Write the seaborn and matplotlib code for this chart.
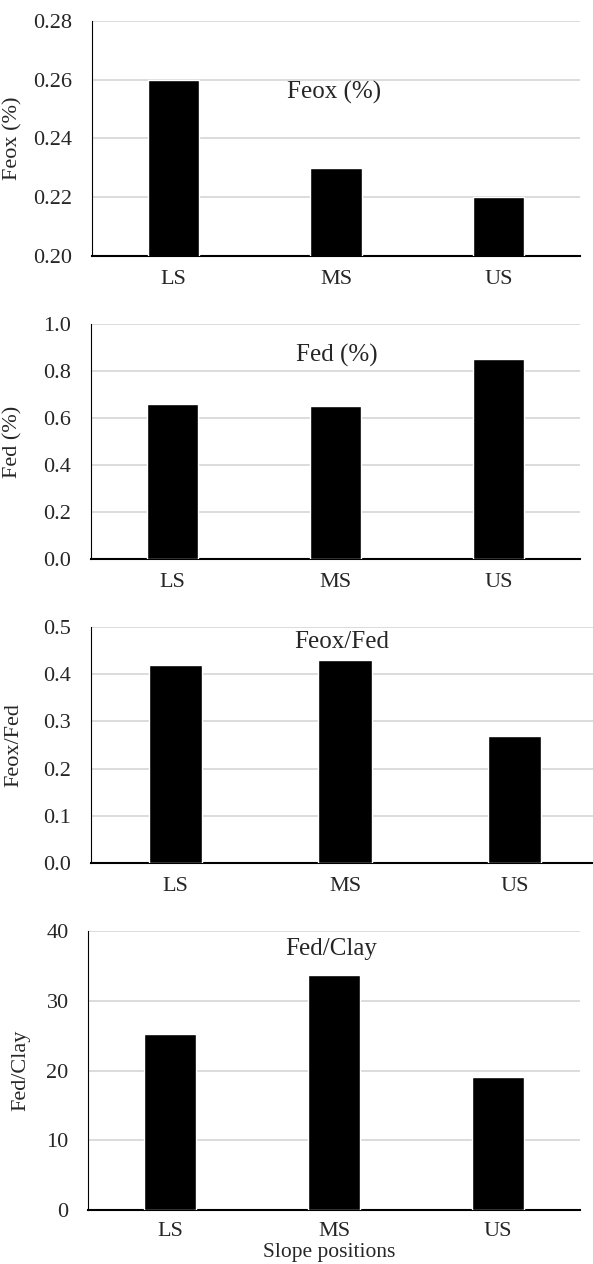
import numpy as np
import pandas as pd
import matplotlib
matplotlib.use("Agg")
import matplotlib.pyplot as plt
from matplotlib.ticker import FormatStrFormatter, MultipleLocator
import seaborn as sns

# Data
positions = ["LS", "MS", "US"]
feox = [0.26, 0.23, 0.22]
fed = [0.66, 0.65, 0.85]
feox_fed = [0.42, 0.43, 0.27]
fed_clay = [25.3, 33.7, 19.1]

sns.set_style("white")
plt.rcParams['font.family'] = ['Liberation Serif', 'DejaVu Serif']

W, H = 593, 1264
fig = plt.figure(figsize=(W / 100, H / 100), dpi=100)

# values, label, ylim, step, fmt, box px (left, right, top, bottom), title pos, ylabel x, x tick pad
panels = [
    (feox, "Feox (%)", (0.20, 0.28), 0.02, "%.2f", (92, 580, 20.7, 256), (0.497, 0.693), -0.142, 10),
    (fed, "Fed (%)", (0.0, 1.0), 0.2, "%.1f", (90.7, 580, 324, 559), (0.503, 0.868), -0.139, 10),
    (feox_fed, "Feox/Fed", (0.0, 0.5), 0.1, "%.1f", (90.7, 599.5, 627.3, 862.7), (0.4935, 0.938), -0.132, 10),
    (fed_clay, "Fed/Clay", (0, 40), 10, "%d", (88.1, 580, 931, 1210), (0.495, 0.935), -0.118, 8.5),
]

for i, (vals, lab, ylim, step, fmt, box, tpos, ylx, xpad) in enumerate(panels):
    l, r, t, b = box
    ax = fig.add_axes([l / W, 1 - b / H, (r - l) / W, (b - t) / H])
    df = pd.DataFrame({"pos": positions, "val": vals})
    sns.barplot(data=df, x="pos", y="val", color="black", saturation=1,
                width=0.315, ax=ax, zorder=3)
    ax.set_xlim(-0.5, 2.5)
    ax.set_ylim(*ylim)
    ax.yaxis.set_major_locator(MultipleLocator(step))
    ax.yaxis.set_major_formatter(FormatStrFormatter(fmt))
    ax.grid(axis="y", color="#d9d9d9", linewidth=1.3, zorder=0)
    ax.set_axisbelow(True)
    for s in ["top", "right"]:
        ax.spines[s].set_visible(False)
    ax.spines["left"].set_color("black")
    ax.spines["left"].set_linewidth(0.8)
    ax.spines["bottom"].set_color("black")
    ax.spines["bottom"].set_linewidth(1.5)
    ax.tick_params(axis="both", length=0, labelsize=16)
    ax.tick_params(axis="y", pad=14)
    ax.tick_params(axis="x", pad=xpad)
    ax.set_ylabel(lab, fontsize=16)
    ax.yaxis.set_label_coords(ylx, 0.5)
    ax.text(tpos[0], tpos[1], lab, transform=ax.transAxes, ha="center",
            va="center", fontsize=18)
    if i == 3:
        ax.set_xlabel("Slope positions", fontsize=15.5)
        ax.xaxis.label.set_va("center")
        ax.xaxis.set_label_coords(0.49, -0.154)
    else:
        ax.set_xlabel("")

fig.savefig("out.png", dpi=100)
